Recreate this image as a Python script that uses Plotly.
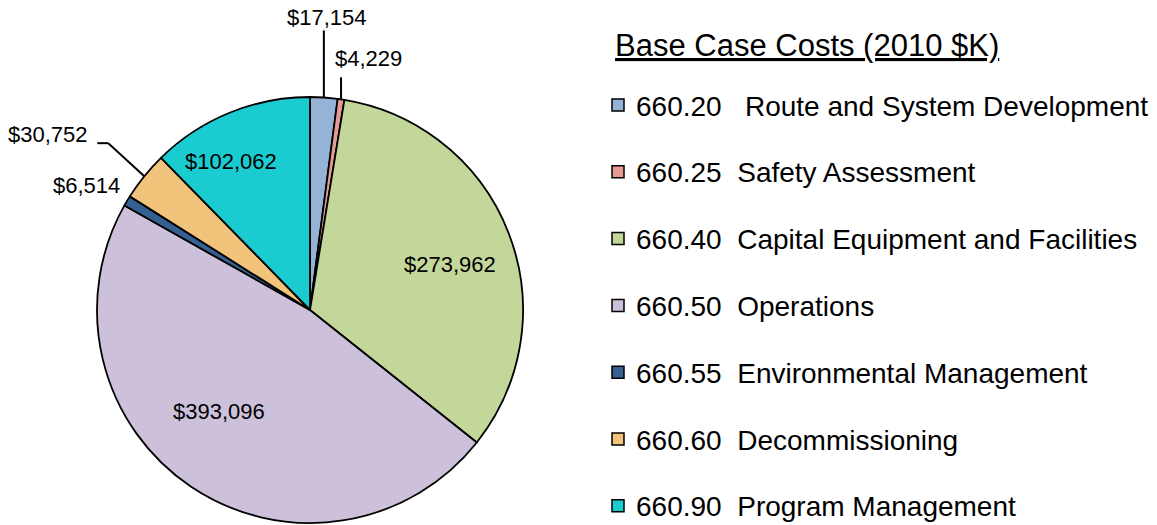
import math
import plotly.graph_objects as go

# ---- data ----
codes = ["660.20", "660.25", "660.40", "660.50", "660.55", "660.60", "660.90"]
names = ["Route and System Development", "Safety Assessment",
         "Capital Equipment and Facilities", "Operations",
         "Environmental Management", "Decommissioning", "Program Management"]
values = [17154, 4229, 273962, 393096, 6514, 30752, 102062]
title_text = "Base Case Costs (2010 $K)"

# ---- style ----
colors = ["#95B3D7", "#E59A94", "#C4D79B", "#CCC0DA", "#376092", "#F2C37A", "#1ACCD0"]
W, H = 1157, 525
CX, CY, R = 310, 310, 213          # pie centre / radius in pixels
FONT = "Liberation Sans, Arial, sans-serif"
LEG_X_SYM, LEG_X_TXT, LEG_Y0, LEG_PITCH, SYM = 618, 634, 106, 66.8, 12
# label placement: ("in", radius fraction, angle offset deg) or ("out", dx, dy, xanchor, leader)
label_style = [
    ("out", 3, -80, "center", [(0, -67)]),
    ("out", 27, -41, "center", [(0, -22)]),
    ("in", 0.69, 3.0),
    ("in", 0.64, 8.0),
    ("out", -5, -15, "right", None),
    ("out", -54, -42, "right", [(-36, -33), (-47, -33)]),
    ("in", 0.79, -6.0),
]

def px(x):
    return x / W

def py(y):
    return 1 - y / H

legend_labels = []
for i, (c, n) in enumerate(zip(codes, names)):
    gap = "\u00a0\u00a0\u00a0" if i == 0 else "\u00a0\u00a0"
    legend_labels.append(c + gap + n)

fig = go.Figure()
fig.add_trace(go.Pie(
    values=values, labels=legend_labels, sort=False, direction="clockwise",
    rotation=0, textinfo="none", hoverinfo="skip", showlegend=False,
    marker=dict(colors=colors, line=dict(color="black", width=1.8)),
    domain=dict(x=[px(CX - R), px(CX + R)], y=[py(CY + R), py(CY - R)]),
))

total = sum(values)
annotations = []
shapes = []
cum = 0.0
for i, v in enumerate(values):
    mid = (cum + v / 2) / total * 360.0
    cum += v
    st = label_style[i]
    text = "${:,}".format(v)
    if st[0] == "in":
        a = math.radians(mid + st[2])
        x = CX + st[1] * R * math.sin(a)
        y = CY - st[1] * R * math.cos(a)
        annotations.append(dict(x=px(x), y=py(y), xref="paper", yref="paper",
                                text=text, showarrow=False, xanchor="center",
                                yanchor="middle", font=dict(size=22, family=FONT, color="black")))
    else:
        a = math.radians(mid)
        ex = CX + R * math.sin(a)
        ey = CY - R * math.cos(a)
        if st[4]:
            pts = [(ex, ey)] + [(ex + dx, ey + dy) for dx, dy in st[4]]
            for (x0, y0), (x1, y1) in zip(pts[:-1], pts[1:]):
                shapes.append(dict(type="line", xref="paper", yref="paper",
                                   x0=px(x0), y0=py(y0), x1=px(x1), y1=py(y1),
                                   line=dict(color="black", width=2)))
        annotations.append(dict(x=px(ex + st[1]), y=py(ey + st[2]), xref="paper", yref="paper",
                                text=text, showarrow=False, xanchor=st[3],
                                yanchor="middle", font=dict(size=22, family=FONT, color="black")))

# legend (title + rows) built from the category lists
annotations.append(dict(x=px(613), y=py(46), xref="paper", yref="paper",
                        text="<u>" + title_text + "</u>", showarrow=False,
                        xanchor="left", yanchor="middle",
                        font=dict(size=31, family=FONT, color="black")))
for i, lab in enumerate(legend_labels):
    yc = LEG_Y0 + i * LEG_PITCH
    shapes.append(dict(type="rect", xref="paper", yref="paper",
                       x0=px(LEG_X_SYM - SYM / 2), x1=px(LEG_X_SYM + SYM / 2),
                       y0=py(yc - SYM / 2 - 1), y1=py(yc + SYM / 2 - 1),
                       fillcolor=colors[i], line=dict(color="black", width=1.5)))
    annotations.append(dict(x=px(LEG_X_TXT), y=py(yc), xref="paper", yref="paper",
                            text=lab, showarrow=False, xanchor="left", yanchor="middle",
                            font=dict(size=28, family=FONT, color="black")))

fig.update_layout(
    width=W, height=H,
    margin=dict(l=0, r=0, t=0, b=0),
    paper_bgcolor="white", plot_bgcolor="white",
    showlegend=False,
    annotations=annotations, shapes=shapes,
)

fig.write_html("out.html", config={"displayModeBar": False},
               post_script="document.body.style.margin='0px';")
